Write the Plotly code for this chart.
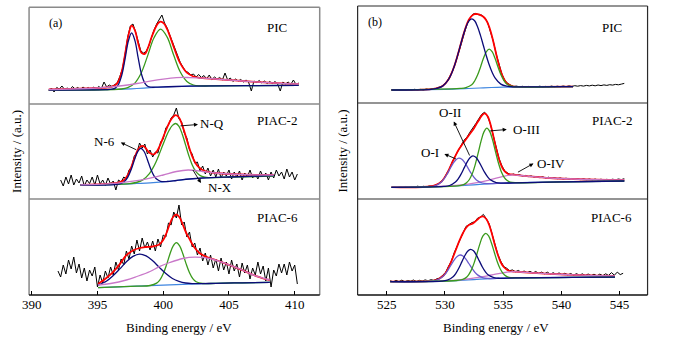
import numpy as np
import plotly.graph_objects as go

W, H = 673, 346

# ===================== Panel (a): N 1s =====================
# measured spectra (intensity, a.u.), evenly spaced energies
A_PIC_E = (391.3, 410.3)
A_PIC_DATA = [13, 16, 12, 16.5, 15, 18, 14.5, 16, 14, 17.5, 15, 16.5, 14.5, 17, 15, 16.5, 14, 17, 15.5, 17.5,
              15.5, 22, 17, 19, 17.5, 19.5, 21, 27.5, 35, 50, 67, 78, 80, 72, 61, 53, 51, 52.5, 58, 67,
              74, 80, 85, 89, 81, 76, 69, 62, 54, 47, 41.5, 37, 33, 31.5, 29, 30, 27, 29.5, 26.5, 28.5,
              25, 29, 24.5, 27, 25, 26.5, 24, 31, 24, 26, 22.5, 25, 23, 24.5, 22, 24, 21.5, 13, 23, 21.5,
              23.5, 21, 23, 20.5, 22.5, 20.5, 22.5, 20, 13, 22, 20, 22, 19.5, 24, 19.5, 21]
A_P2_E = (392.2, 410.2)
A_P2_DATA = [19, 13, 22, 15, 24, 14, 20, 16, 23, 13, 19, 15.5, 22, 14, 24, 15, 19, 13.5, 21, 15,
             18, 9, 19, 17, 22, 20, 29, 32, 43, 46, 56, 51, 55, 45, 49, 42, 47, 46, 57, 60,
             71, 74, 81, 84, 91, 80, 77, 66, 61, 49, 45, 36, 37, 28, 33, 25, 31, 23, 29, 22,
             30, 21, 27, 23, 29, 20, 27, 22, 28, 19, 26, 22, 29, 21, 25, 20, 28, 22, 26, 19,
             27, 21, 29, 23, 27, 20, 30, 22, 27, 19, 25]
A_P6_E = (392.0, 410.2)
A_P6_DATA = [24, 18, 30, 21, 35, 26, 38, 22, 31, 17, 27, 14, 25, 19, 28, 8, 20, 12, 24, 17,
             28, 20, 33, 25, 36, 30, 44, 36, 49, 41, 55, 44, 57, 47, 53, 45, 54, 44, 56, 48,
             60, 58, 72, 70, 83, 77, 90, 70, 73, 58, 63, 48, 52, 40, 47, 34, 42, 30, 40, 27,
             36, 24, 37, 25, 33, 21, 35, 24, 31, 18, 32, 22, 30, 16, 27, 20, 33, 21, 29, 14,
             27, 8, 25, 19, 31, 22, 31, 20, 33, 24, 30, 11]

# fitted components (energy, intensity)
A_PIC_BG_X = [391.3, 393, 395, 396, 397, 398, 399, 400, 401, 402, 404, 407, 410.3]
A_PIC_BG_Y = [14.0, 14.1, 14.3, 14.5, 14.9, 15.5, 16.3, 17.0, 17.5, 17.8, 18.1, 18.4, 18.7]
A_PIC_N6_X = [391.3, 395.6, 396.1, 396.35, 396.6, 396.85, 397.1, 397.35, 397.6, 397.85, 398.1, 398.35,
              398.6, 398.85, 399.1, 399.6, 401, 402, 404, 407, 410.3]
A_PIC_N6_Y = [14.0, 14.4, 14.8, 15.9, 19.6, 28.8, 45.1, 63.0, 71.2, 63.4, 45.8, 29.7, 20.9, 17.5, 16.8,
              16.9, 17.5, 17.8, 18.1, 18.4, 18.7]
A_PIC_NQ_X = [391.3, 396.8, 397.3, 397.8, 398.3, 398.8, 399.3, 399.8, 400.3, 400.8, 401.3, 401.8, 402.3,
              402.8, 404, 407, 410.3]
A_PIC_NQ_Y = [14.0, 15.0, 16.3, 20.4, 30.3, 47.6, 66.3, 74.9, 66.9, 48.7, 32.0, 22.6, 19.0, 18.1, 18.1,
              18.4, 18.7]
A_PIC_NX_X = [391.3, 393, 395, 396, 397, 398, 399, 400, 401, 401.5, 402, 403, 404, 405, 406, 407, 408,
              409, 410.3]
A_PIC_NX_Y = [14.5, 15.0, 16.0, 17.0, 18.5, 20.5, 22.8, 24.8, 26.3, 26.6, 26.4, 25.8, 25.0, 24.0, 23.0,
              22.2, 21.3, 20.6, 20.0]
A_PIC_FIT_X = [391.3, 393, 395, 396, 396.35, 396.6, 396.85, 397.1, 397.35, 397.6, 397.85, 398.1, 398.35,
               398.6, 398.85, 399.1, 399.35, 399.6, 399.8, 400.05, 400.3, 400.55, 400.8, 401.05, 401.3,
               401.8, 402.3, 402.8, 403, 404, 405, 406, 407, 408, 409, 410.3]
A_PIC_FIT_Y = [14.5, 15.0, 16.0, 17.0, 18.7, 22.7, 32.5, 49.6, 68.4, 78.4, 73.7, 60.4, 51.2, 50.2, 56.5,
               66.2, 74.5, 80.6, 82.4, 80.6, 74.8, 66.4, 57.0, 48.1, 40.6, 31.3, 27.5, 26.2, 25.8, 25.0,
               24.0, 23.0, 22.2, 21.3, 20.6, 20.0]

A_P2_BG_X = [393.7, 396, 397, 398, 399, 400, 401, 402, 403, 404, 405, 408.4]
A_P2_BG_Y = [14, 14.3, 14.8, 15.5, 16.2, 17.2, 18.5, 20, 21, 21.5, 22, 23]
A_P2_N6_X = [393.7, 396.3, 396.8, 397.05, 397.3, 397.55, 397.8, 398.05, 398.3, 398.55, 398.8, 399.05,
             399.3, 399.55, 399.8, 400.3, 401, 402, 403, 405, 408.4]
A_P2_N6_Y = [14.0, 14.4, 15.5, 17.5, 21.7, 29.0, 38.6, 47.2, 50.7, 47.5, 39.3, 30.1, 23.2, 19.4, 17.7,
             17.5, 18.5, 20, 21, 22, 23.3]
A_P2_NQ_X = [393.7, 397.45, 397.95, 398.45, 398.95, 399.2, 399.45, 399.7, 399.95, 400.2, 400.45, 400.7,
             400.95, 401.2, 401.45, 401.7, 401.95, 402.2, 402.45, 402.7, 402.95, 403.45, 404.5, 408.4]
A_P2_NQ_Y = [14.0, 15.4, 16.5, 19.1, 25.4, 30.6, 37.1, 44.9, 53.4, 61.6, 68.7, 73.6, 75.5, 72.7, 64.8,
             54.1, 43.3, 34.3, 28.1, 24.5, 22.6, 21.4, 21.6, 23]
A_P2_NX_X = [393.7, 395, 396, 397, 398, 399, 400, 401, 401.9, 403, 404, 405, 406, 407, 408.4]
A_P2_NX_Y = [14.2, 14.6, 15.4, 16.6, 18.3, 20.8, 24, 27.5, 29, 27.5, 26, 25, 24.5, 24.2, 24]
A_P2_FIT_X = [393.7, 395, 396, 396.5, 397, 397.3, 397.55, 397.8, 398.05, 398.3, 398.55, 398.8, 399.05,
              399.3, 399.55, 399.8, 400.05, 400.3, 400.55, 400.8, 400.95, 401.2, 401.45, 401.7, 401.95,
              402.2, 402.45, 402.7, 402.95, 403.45, 404, 405, 406, 407, 408.4]
A_P2_FIT_Y = [14.2, 14.6, 15.4, 16.2, 18.7, 23.8, 31.2, 40.5, 48.5, 52.8, 52.5, 48.5, 45.5, 44.6, 48.3,
              55.0, 63.4, 71.6, 78.5, 82.7, 83.8, 81.5, 73.8, 63.3, 52.4, 42.8, 36.0, 31.8, 29.3, 27.0,
              26, 25, 24.5, 24.2, 24]

A_P6_BG_X = [395.05, 396, 397, 398, 399, 400, 401, 402, 403, 404, 406, 408.1]
A_P6_BG_Y = [7.3, 7.8, 8.3, 8.8, 9.3, 9.8, 10.3, 10.8, 11.3, 11.7, 12.2, 12.7]
A_P6_N6_X = [395.05, 395.7, 396.2, 396.7, 397.2, 397.7, 398.2, 398.7, 399.2, 399.7, 400.2, 400.7, 401.2,
             401.7, 402.2, 402.7, 404, 406, 408.1]
A_P6_N6_Y = [9.9, 14.0, 19.4, 26.1, 33.2, 38.6, 40.9, 39.1, 34.2, 27.6, 21.4, 16.5, 13.6, 12.0, 11.4,
             11.3, 11.7, 12.2, 12.7]
A_P6_NQ_X = [395.05, 398, 399, 399.5, 399.75, 400.0, 400.25, 400.5, 400.75, 401.0, 401.25, 401.5, 401.75,
             402.0, 402.25, 402.5, 403.0, 404, 406, 408.1]
A_P6_NQ_Y = [7.3, 8.8, 9.5, 11.9, 15.2, 21.3, 30.1, 40.5, 48.9, 52.3, 49.1, 41.0, 30.9, 22.3, 16.4, 13.3,
             11.5, 11.7, 12.2, 12.7]
A_P6_NX_X = [395.05, 396, 397.2, 398, 399, 399.7, 400.5, 401.5, 402.4, 403.5, 404.7, 406, 407.2, 408.1]
A_P6_NX_Y = [10, 11.5, 15, 18.5, 23.5, 28.3, 32.5, 36.5, 37.8, 36.5, 31.7, 25, 18.3, 15]
A_P6_FIT_X = [395.05, 395.7, 396.2, 396.7, 397.2, 397.7, 398.2, 398.7, 399.2, 399.7, 400.0, 400.25, 400.5,
              400.75, 401.0, 401.25, 401.5, 401.75, 402.0, 402.25, 402.5, 402.75, 403.0, 403.5, 404,
              404.7, 405.5, 406, 406.6, 407.2, 407.6, 408.1]
A_P6_FIT_Y = [11, 17.3, 23.2, 30.9, 39.8, 44.5, 47, 48, 48.5, 50.5, 55, 62, 71, 78, 80.5, 77.5, 70, 62,
              56, 50, 45.5, 42, 40, 37, 35, 31.7, 27.5, 25, 21.5, 18.3, 16.5, 15]

# ===================== Panel (b): O 1s =====================
B_PIC_E = (525.4, 545.4)
B_PIC_DATA = [13.2, 12.6, 13.4, 12.9, 13.6, 13.0, 13.5, 12.8, 13.7, 13.1, 13.6, 13.0, 14.0, 13.4, 14.3,
              14.1, 15.6, 16.2, 18.4, 20.9, 26.2, 31.8, 39.6, 48.3, 59.1, 69.2, 78.6, 84.8, 88.9, 89.6,
              88.2, 87.9, 85.3, 80.9, 72.1, 61.9, 49.1, 38.0, 28.6, 22.6, 19.5, 17.8, 16.5, 16.9, 16.1,
              16.7, 16.0, 16.6, 15.9, 16.5, 16.2, 16.8, 16.0, 16.6, 16.1, 16.9, 16.2, 16.8, 16.3, 17.0,
              16.4, 17.1, 16.6, 17.3, 16.8, 17.4, 16.9, 17.6, 17.1, 17.8, 17.2, 18.0, 17.4, 18.1, 17.6,
              18.3, 17.9, 18.6, 18.2, 18.9, 19.6]
B_P2_E = (525.4, 545.4)
B_P2_DATA = [11.5, 12.3, 11.6, 12.4, 11.9, 12.6, 11.7, 12.5, 12.0, 12.8, 12.1, 12.7, 12.2, 13.0, 12.8,
             13.9, 14.8, 17.3, 20.2, 25.4, 30.6, 37.8, 43.2, 50.1, 54.0, 58.9, 62.0, 66.9, 70.6, 75.4,
             80.1, 84.6, 86.8, 83.1, 74.9, 62.6, 51.0, 40.4, 32.9, 27.9, 25.9, 24.2, 25.0, 23.6, 24.3,
             22.9, 23.6, 22.4, 23.1, 21.9, 22.6, 21.5, 22.2, 21.0, 21.8, 20.6, 21.4, 20.3, 21.1, 20.0,
             20.8, 19.8, 20.5, 19.6, 20.3, 19.4, 20.2, 19.3, 20.0, 19.2, 19.9, 19.1, 19.8, 19.0, 19.7,
             19.1, 19.8, 19.2, 20.0, 19.4, 20.3]
B_P6_E = (525.3, 545.3)
B_P6_DATA = [14.3, 13.1, 14.6, 13.4, 14.9, 13.2, 14.5, 13.8, 15.0, 13.5, 14.7, 13.9, 15.1, 14.2, 15.3,
             14.6, 16.2, 16.9, 19.8, 22.5, 28.6, 33.9, 42.4, 48.9, 57.1, 62.3, 68.5, 70.2, 72.4, 73.1,
             76.8, 77.9, 80.6, 76.3, 71.2, 60.9, 50.6, 40.3, 33.7, 28.4, 26.8, 24.3, 25.1, 23.2, 24.6,
             22.7, 24.0, 22.3, 23.7, 22.0, 23.5, 21.6, 22.9, 21.2, 22.8, 20.9, 22.3, 20.6, 22.1, 20.3,
             21.8, 20.1, 21.5, 19.8, 21.4, 19.7, 21.2, 19.5, 21.0, 19.4, 20.8, 19.2, 20.9, 19.3, 21.2,
             19.6, 22.4, 19.8, 22.9, 20.4, 21.7]

B_PIC_BG_X = [525.4, 528, 530, 531, 532, 533, 534, 535, 537, 540, 541]
B_PIC_BG_Y = [13, 13.3, 13.7, 14, 14.5, 15, 15.5, 15.8, 16, 16.3, 16.4]
B_PIC_O1_X = [525.4, 528.8, 529.3, 529.8, 530.3, 530.55, 530.8, 531.05, 531.3, 531.55, 531.8, 532.05,
              532.3, 532.55, 532.8, 533.05, 533.3, 533.55, 533.8, 534.05, 534.3, 534.8, 535.3, 535.8,
              537, 540, 541]
B_PIC_O1_Y = [13, 13.7, 14.6, 16.9, 23.4, 29.1, 36.8, 46.1, 56.5, 66.9, 75.8, 81.9, 84.1, 82.2, 76.3,
              67.6, 57.5, 47.3, 38.2, 30.7, 25.2, 18.9, 16.8, 16.2, 16.1, 16.3, 16.4]
B_PIC_O2_X = [525.4, 531.3, 531.8, 532.3, 532.55, 532.8, 533.05, 533.3, 533.55, 533.8, 534.05, 534.3,
              534.55, 534.8, 535.05, 535.3, 535.8, 536.3, 540, 541]
B_PIC_O2_Y = [13, 14.6, 15.4, 18.2, 22.0, 27.9, 35.8, 44.4, 51.2, 53.8, 51.3, 44.7, 36.2, 28.4, 22.7,
              19.1, 16.5, 16.05, 16.3, 16.4]
B_PIC_FIT_X = [525.4, 528, 529.3, 529.8, 530.3, 530.8, 531.3, 531.55, 531.8, 532.05, 532.3, 532.55,
               532.8, 533.05, 533.3, 533.55, 533.8, 534.05, 534.3, 534.55, 534.8, 535.05, 535.3, 535.8,
               536.3, 538, 541]
B_PIC_FIT_Y = [13, 13.3, 14.6, 16.9, 23.4, 36.8, 56.5, 67.0, 76.3, 83.2, 87.2, 88.9, 88.8, 87.9, 86.3,
               82.8, 76.2, 66.2, 54.0, 41.7, 31.4, 24.3, 19.9, 16.7, 16.1, 16.2, 16.4]

B_P2_BG_X = [525.4, 528, 530, 531, 532, 533, 534, 535, 536, 538, 540, 543, 545.4]
B_P2_BG_Y = [11.7, 12, 12.5, 13, 13.8, 14.6, 15.3, 15.8, 16.2, 16.7, 17.1, 17.6, 18]
B_P2_OI_X = [525.4, 528.7, 529.2, 529.7, 529.95, 530.2, 530.45, 530.7, 530.95, 531.2, 531.45, 531.7,
             531.95, 532.2, 532.45, 532.7, 533.2, 533.7, 535, 538, 545.4]
B_P2_OI_Y = [11.7, 12.3, 13.5, 17.1, 20.6, 25.2, 30.5, 35.6, 39.3, 40.8, 39.7, 36.3, 31.6, 26.6, 22.3,
             19.1, 16.0, 15.4, 15.8, 16.7, 18]
B_P2_OII_X = [525.4, 529.9, 530.4, 530.9, 531.15, 531.4, 531.65, 531.9, 532.15, 532.4, 532.65, 532.9,
              533.15, 533.4, 533.65, 533.9, 534.4, 534.9, 536, 540, 545.4]
B_P2_OII_Y = [11.7, 12.6, 13.5, 16.9, 20.3, 25.2, 31.1, 36.9, 41.3, 43.1, 41.7, 37.7, 32.3, 26.8, 22.3,
              19.2, 16.4, 15.9, 16.2, 17.1, 18]
B_P2_OIII_X = [525.4, 531.1, 531.6, 531.85, 532.1, 532.35, 532.6, 532.85, 533.1, 533.35, 533.6, 533.85,
               534.1, 534.35, 534.6, 534.85, 535.1, 535.35, 535.6, 536.1, 540, 545.4]
B_P2_OIII_Y = [11.7, 13.2, 14.4, 16.2, 19.5, 25.4, 34.4, 45.9, 57.9, 67.1, 70.8, 67.4, 58.6, 46.9, 35.7,
               27.0, 21.4, 18.4, 16.9, 16.3, 17.1, 18]
B_P2_OIV_X = [525.4, 529, 530, 531, 532, 533, 534, 535, 535.7, 536.5, 537.5, 539, 541, 543, 545.4]
B_P2_OIV_Y = [11.8, 12.4, 12.9, 13.6, 14.8, 16.8, 19.6, 22.6, 24, 23.5, 22.3, 21, 20, 19.3, 19]
B_P2_FIT_X = [525.4, 528.7, 529.2, 529.7, 530.2, 530.45, 530.7, 530.95, 531.2, 531.45, 531.7, 531.95,
              532.2, 532.45, 532.7, 532.95, 533.2, 533.45, 533.7, 533.95, 534.2, 534.45, 534.7, 534.95,
              535.2, 535.45, 535.7, 536.2, 537, 538, 539, 541, 543, 545.4]
B_P2_FIT_Y = [11.8, 12.5, 13.8, 17.4, 26.0, 32.0, 38.3, 44.4, 49.7, 54, 58, 62, 66, 70, 75, 79.5, 84,
              85.5, 82, 73, 60.5, 48, 37.8, 30.8, 26.8, 24.9, 24.6, 23.85, 22.9, 22, 21, 20, 19.3, 19]

B_P6_BG_X = [525.3, 528, 530, 531, 532, 533, 534, 535, 536, 538, 541, 544.6]
B_P6_BG_Y = [13.3, 13.5, 13.9, 14.4, 15.1, 15.8, 16.4, 16.8, 17.1, 17.4, 17.6, 17.8]
B_P6_OI_X = [525.3, 528.8, 529.3, 529.8, 530.05, 530.3, 530.55, 530.8, 531.05, 531.3, 531.55, 531.8,
             532.05, 532.3, 532.55, 532.8, 533.3, 533.8, 535, 538, 544.6]
B_P6_OI_Y = [13.3, 13.8, 14.8, 18.2, 21.4, 25.7, 30.5, 35.2, 38.6, 40.0, 39.0, 35.8, 31.5, 27.0, 23.0,
             20.1, 17.1, 16.5, 16.8, 17.4, 17.8]
B_P6_OII_X = [525.3, 529.7, 530.2, 530.7, 530.95, 531.2, 531.45, 531.7, 531.95, 532.2, 532.45, 532.7,
              532.95, 533.2, 533.45, 533.7, 534.2, 534.7, 536, 541, 544.6]
B_P6_OII_Y = [13.3, 13.9, 14.9, 18.3, 21.9, 27.0, 33.1, 39.2, 43.8, 45.7, 44.2, 39.9, 34.1, 28.3, 23.6,
              20.3, 17.4, 16.7, 17.1, 17.6, 17.8]
B_P6_OIII_X = [525.3, 531.0, 531.5, 531.75, 532.0, 532.25, 532.5, 532.75, 533.0, 533.25, 533.5, 533.75,
               534.0, 534.25, 534.5, 534.75, 535.0, 535.25, 535.5, 536.0, 541, 544.6]
B_P6_OIII_Y = [13.3, 14.5, 15.5, 16.9, 19.7, 24.6, 31.9, 41.3, 51.1, 58.8, 61.7, 59.1, 51.7, 42.2, 33.0,
               26.0, 21.4, 18.9, 17.7, 17.2, 17.6, 17.8]
B_P6_OIV_X = [525.3, 529, 530, 531, 532, 533, 534, 535, 535.8, 536.5, 537.5, 539, 541, 543, 544.6]
B_P6_OIV_Y = [13.4, 13.9, 14.3, 14.9, 16, 17.8, 20, 22.2, 23.3, 23.0, 22.2, 21.2, 20.2, 19.4, 19.0]
B_P6_FIT_X = [525.3, 528.8, 529.3, 529.8, 530.05, 530.3, 530.55, 530.8, 531.05, 531.3, 531.55, 531.8,
              532.05, 532.3, 532.55, 532.8, 533.05, 533.3, 533.55, 533.8, 534.05, 534.3, 534.55, 534.8,
              535.05, 535.3, 535.55, 536, 536.5, 537.5, 539, 541, 543, 544.6]
B_P6_FIT_Y = [13.4, 14.1, 15.1, 18.7, 22.1, 27.3, 33.7, 41, 48.7, 55.8, 62, 67, 70, 71, 73, 75.5, 78,
              78.5, 76, 70, 60.5, 49.5, 40, 32.5, 28, 25.5, 24, 23.4, 23, 22.2, 21.2, 20.2, 19.4, 19]

A_TICKS = [390, 395, 400, 405, 410]
B_TICKS = [525, 530, 535, 540, 545]
SAMPLES = ["PIC", "PIAC-2", "PIAC-6"]

# ---------------- styles ----------------
C_DATA = "#000000"
C_FIT = "#ff0000"
C_BG = "#3f86e0"
C_NAVY = "#0b0b78"
C_GREEN = "#3a9a1c"
C_PURP = "#c978c9"
C_SLATE = "#6a5acd"
FONT = "Liberation Serif"

def grid(rng, vals):
    return np.linspace(rng[0], rng[1], len(vals))

fig = go.Figure()

def add(i, x, y, color, width, shape="spline"):
    ax = "" if i == 1 else str(i)
    fig.add_trace(go.Scatter(x=x, y=y, mode="lines", xaxis="x" + ax, yaxis="y" + ax,
                             line=dict(color=color, width=width, shape=shape),
                             hoverinfo="skip", showlegend=False))

panels_a = [
    (1, A_PIC_E, A_PIC_DATA, A_PIC_FIT_X, A_PIC_FIT_Y, A_PIC_BG_X, A_PIC_BG_Y,
     [(A_PIC_NQ_X, A_PIC_NQ_Y, C_GREEN), (A_PIC_N6_X, A_PIC_N6_Y, C_NAVY), (A_PIC_NX_X, A_PIC_NX_Y, C_PURP)]),
    (2, A_P2_E, A_P2_DATA, A_P2_FIT_X, A_P2_FIT_Y, A_P2_BG_X, A_P2_BG_Y,
     [(A_P2_NQ_X, A_P2_NQ_Y, C_GREEN), (A_P2_N6_X, A_P2_N6_Y, C_NAVY), (A_P2_NX_X, A_P2_NX_Y, C_PURP)]),
    (3, A_P6_E, A_P6_DATA, A_P6_FIT_X, A_P6_FIT_Y, A_P6_BG_X, A_P6_BG_Y,
     [(A_P6_NQ_X, A_P6_NQ_Y, C_GREEN), (A_P6_N6_X, A_P6_N6_Y, C_NAVY), (A_P6_NX_X, A_P6_NX_Y, C_PURP)]),
    (4, B_PIC_E, B_PIC_DATA, B_PIC_FIT_X, B_PIC_FIT_Y, B_PIC_BG_X, B_PIC_BG_Y,
     [(B_PIC_O2_X, B_PIC_O2_Y, C_GREEN), (B_PIC_O1_X, B_PIC_O1_Y, C_NAVY)]),
    (5, B_P2_E, B_P2_DATA, B_P2_FIT_X, B_P2_FIT_Y, B_P2_BG_X, B_P2_BG_Y,
     [(B_P2_OIV_X, B_P2_OIV_Y, C_PURP), (B_P2_OI_X, B_P2_OI_Y, C_SLATE),
      (B_P2_OIII_X, B_P2_OIII_Y, C_GREEN), (B_P2_OII_X, B_P2_OII_Y, C_NAVY)]),
    (6, B_P6_E, B_P6_DATA, B_P6_FIT_X, B_P6_FIT_Y, B_P6_BG_X, B_P6_BG_Y,
     [(B_P6_OIV_X, B_P6_OIV_Y, C_PURP), (B_P6_OI_X, B_P6_OI_Y, C_SLATE),
      (B_P6_OIII_X, B_P6_OIII_Y, C_GREEN), (B_P6_OII_X, B_P6_OII_Y, C_NAVY)]),
]

for (i, erng, data, fx, fy, bx, by, comps) in panels_a:
    add(i, grid(erng, data), data, C_DATA, 1.0, "linear")
    add(i, fx, fy, C_FIT, 1.8)
    add(i, bx, by, C_BG, 1.2)
    for (cx, cy, col) in comps:
        add(i, cx, cy, col, 1.3)

# ---------------- layout ----------------
def X(px):
    return px / W

def Y(py):
    return 1 - py / H

LX = (22.3, 316.0)
RX = (354.3, 647.3)
L_ROWS = [(7.3, 104), (104, 199), (199, 295)]
R_ROWS = [(6.0, 103), (103, 199), (199, 295)]

layout = dict(width=W, height=H, margin=dict(l=0, r=0, t=0, b=0, pad=0),
              paper_bgcolor="white", plot_bgcolor="white", showlegend=False)

for i in range(1, 7):
    left = i <= 3
    xs = LX if left else RX
    rows = L_ROWS if left else R_ROWS
    top, bot = rows[(i - 1) % 3]
    ax = "" if i == 1 else str(i)
    bottom = (i % 3 == 0)
    xr = [389.8, 411.9] if left else [522.5, 547.4]
    xa = dict(domain=[X(xs[0]), X(xs[1])], range=xr, anchor="y" + ax,
              showgrid=False, zeroline=False, showline=False, fixedrange=True)
    if bottom:
        xa.update(visible=True, ticks="inside", ticklen=4, tickwidth=1, tickcolor="black",
                  tickvals=A_TICKS if left else B_TICKS, showticklabels=True,
                  tickfont=dict(family=FONT, size=13, color="black"))
    else:
        xa.update(visible=False)
    ya = dict(domain=[Y(bot), Y(top)], range=[0, bot - top], anchor="x" + ax,
              visible=False, fixedrange=True)
    layout["xaxis" + ax] = xa
    layout["yaxis" + ax] = ya

shapes = []
def hline(x0, x1, y, color, w):
    shapes.append(dict(type="line", xref="paper", yref="paper", x0=X(x0), x1=X(x1), y0=Y(y), y1=Y(y),
                       line=dict(color=color, width=w)))
def vline(x, y0, y1, color, w):
    shapes.append(dict(type="line", xref="paper", yref="paper", x0=X(x), x1=X(x), y0=Y(y0), y1=Y(y1),
                       line=dict(color=color, width=w)))

GL = "#8a8a8a"
hline(LX[0], LX[1], L_ROWS[0][0], GL, 1.5)
hline(LX[0], LX[1], L_ROWS[1][0], GL, 1.5)
hline(LX[0], LX[1], L_ROWS[2][0], GL, 1.5)
vline(LX[0], L_ROWS[0][0], 295, GL, 1.5)
vline(LX[1], L_ROWS[0][0], 295, GL, 1.5)
hline(LX[0], LX[1], 295, "#111111", 1.5)

GR = "#2a2a2a"
hline(RX[0], RX[1], R_ROWS[0][0], GR, 1.2)
hline(RX[0], RX[1], R_ROWS[1][0], GR, 1.2)
hline(RX[0], RX[1], R_ROWS[2][0], GR, 1.2)
vline(RX[0], R_ROWS[0][0], 295, GR, 1.2)
vline(RX[1], R_ROWS[0][0], 295, GR, 1.2)
hline(RX[0], RX[1], 295, "#111111", 1.5)
layout["shapes"] = shapes

ann = []
def text(px, py, s, size=13, angle=0):
    ann.append(dict(xref="paper", yref="paper", x=X(px), y=Y(py), text=s, showarrow=False,
                    xanchor="center", yanchor="middle", textangle=angle,
                    font=dict(family=FONT, size=size, color="black")))
def arrow(hx, hy, tx, ty):
    ann.append(dict(xref="paper", yref="paper", x=X(hx), y=Y(hy), ax=tx - hx, ay=ty - hy,
                    axref="pixel", ayref="pixel", text="", showarrow=True, arrowhead=2,
                    arrowsize=0.9, arrowwidth=0.9, arrowcolor="black", standoff=0, startstandoff=0))

text(49, 23, "(a)", 12)
text(372, 22, "(b)", 12)
for (cx, ys) in [(273, [27, 120, 217]), (611, [27, 120, 217])]:
    for s, yy in zip(SAMPLES, ys):
        text(cx, yy, s, 13)

text(99, 141, "N-6"); arrow(115, 142.5, 132, 150.5)
text(207, 124, "N-Q"); arrow(193, 124.5, 174, 126)
text(215, 188, "N-X"); arrow(196, 183, 187, 168.5)
text(448, 113, "O-II"); arrow(451.5, 121.5, 468, 157)
text(427, 153, "O-I"); arrow(442, 154, 455, 159.5)
text(525, 129.5, "O-III"); arrow(505, 129.5, 487, 131)
text(550, 163, "O-IV"); arrow(532, 163.5, 515, 173)

text(174, 327, "Binding energy / eV", 13)
text(494, 327, "Binding energy / eV", 13)
text(9, 151, "Intensity / (a.u.)", 13, -90)
text(339, 151, "Intensity / (a.u.)", 13, -90)
layout["annotations"] = ann

fig.update_layout(**layout)
fig.write_html("out.html")
